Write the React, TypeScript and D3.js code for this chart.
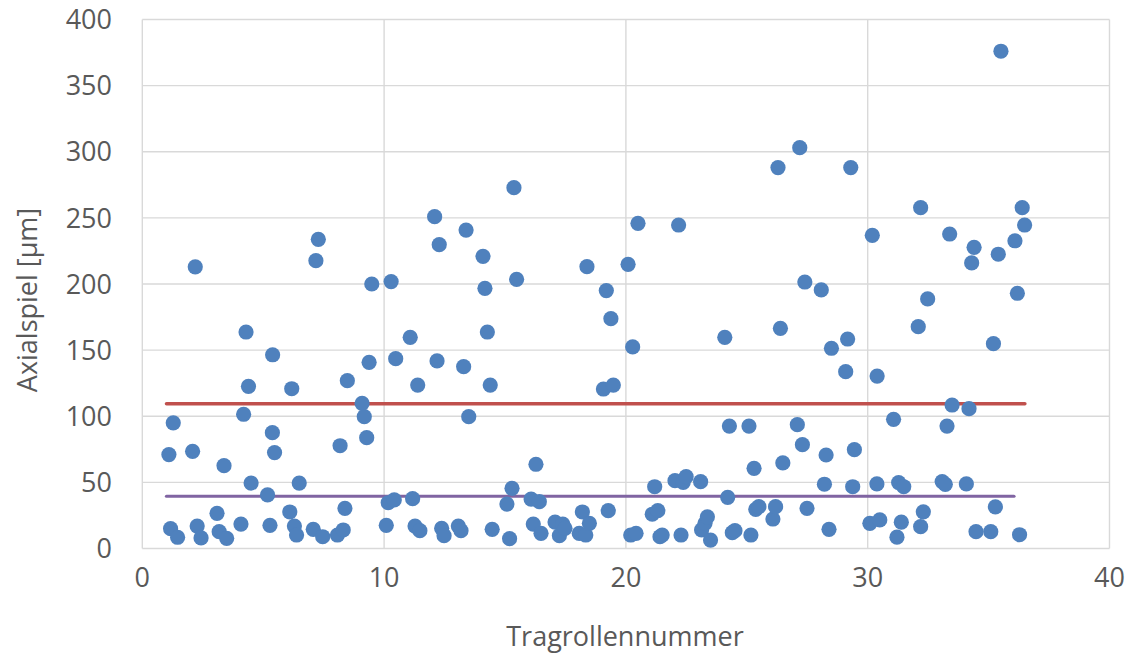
import React from "react";
import * as d3 from "d3";

// Tragrollennummer (x) and Axialspiel in µm (y)
const rollerPos: number[] = [
  1.1, 1.17, 1.28, 1.46,
  2.08, 2.19, 2.27, 2.43,
  3.09, 3.18, 3.38, 3.49,
  4.08, 4.19, 4.29, 4.39, 4.5,
  5.18, 5.28, 5.38, 5.39, 5.47,
  6.1, 6.18, 6.29, 6.38, 6.49,
  7.07, 7.18, 7.28, 7.46,
  8.07, 8.18, 8.31, 8.38, 8.48,
  9.09, 9.18, 9.28, 9.38, 9.49,
  10.09, 10.17, 10.29, 10.42, 10.48,
  11.08, 11.18, 11.28, 11.39, 11.48,
  12.09, 12.19, 12.28, 12.38, 12.48,
  13.07, 13.18, 13.29, 13.39, 13.5,
  14.09, 14.17, 14.27, 14.39, 14.47,
  15.08, 15.19, 15.29, 15.37, 15.48,
  16.08, 16.17, 16.28, 16.42, 16.49,
  17.07, 17.25, 17.39, 17.48,
  18.07, 18.2, 18.34, 18.39, 18.49,
  19.07, 19.19, 19.27, 19.38, 19.48,
  20.09, 20.2, 20.28, 20.42, 20.5,
  21.09, 21.19, 21.32, 21.41, 21.5,
  22.03, 22.18, 22.28, 22.37, 22.49,
  23.09, 23.13, 23.27, 23.37, 23.5,
  24.09, 24.21, 24.28, 24.4, 24.51,
  25.09, 25.17, 25.3, 25.37, 25.5,
  26.08, 26.19, 26.29, 26.39, 26.49,
  27.09, 27.19, 27.3, 27.4, 27.49,
  28.08, 28.21, 28.28, 28.4, 28.5,
  29.09, 29.17, 29.3, 29.38, 29.45,
  30.09, 30.19, 30.38, 30.39, 30.5,
  31.07, 31.21, 31.28, 31.39, 31.49,
  32.09, 32.19, 32.19, 32.3, 32.48,
  33.08, 33.21, 33.28, 33.39, 33.49,
  34.08, 34.19, 34.3, 34.4, 34.48,
  35.09, 35.2, 35.28, 35.4, 35.51,
  36.09, 36.19, 36.28, 36.39, 36.49,
];

const axialPlay: number[] = [
  71, 15, 95, 8.5,
  73.5, 213, 17, 8,
  26.6, 12.7, 62.6, 7.7,
  18.5, 101.5, 163.7, 122.6, 49.5,
  40.5, 17.5, 87.6, 146.5, 72.5,
  27.6, 120.8, 17, 10.2, 49.5,
  14.5, 217.6, 233.8, 8.9,
  10.2, 77.7, 14, 30.4, 126.9,
  109.8, 99.7, 83.8, 140.8, 200,
  17.5, 34.6, 201.8, 36.7, 143.5,
  159.7, 37.7, 17, 123.6, 13.5,
  250.9, 141.8, 229.7, 15.3, 9.7,
  17, 13.5, 137.5, 240.8, 99.7,
  220.9, 196.7, 163.7, 123.6, 14.5,
  33.6, 7.4, 45.5, 272.8, 203.5,
  37.4, 18.5, 63.7, 35.4, 11.5,
  20, 9.7, 18.5, 15.3,
  11.4, 27.6, 10.2, 213.1, 19,
  120.6, 195, 28.6, 173.8, 123.6,
  214.9, 10.2, 152.4, 11.5, 245.9,
  25.9, 46.7, 28.6, 8.9, 10.2,
  51.3, 244.6, 10.2, 50, 54.3,
  50.5, 14, 19, 24, 6.4,
  159.7, 38.7, 92.6, 12, 13.5,
  92.6, 10.2, 60.6, 29.6, 31.6,
  22.3, 31.6, 288, 166.5, 64.7,
  93.6, 303.1, 78.5, 201.5, 30.4,
  195.5, 48.6, 70.7, 14.5, 151.4,
  133.7, 158.4, 288, 46.7, 74.7,
  19, 236.8, 48.8, 130.4, 21.6,
  97.7, 8.6, 49.9, 19.9, 46.7,
  167.7, 257.7, 16.5, 27.7, 188.7,
  50.6, 48.5, 92.6, 237.8, 108.5,
  48.8, 105.7, 215.9, 227.7, 12.7,
  12.7, 154.9, 31.5, 222.5, 376,
  232.7, 193, 10.4, 257.7, 244.6,
];

// Reference lines (upper and lower level)
const upperLineX: number[] = [1, 36.5];
const upperLineY: number[] = [109.5, 109.5];
const lowerLineX: number[] = [1, 36.05];
const lowerLineY: number[] = [39.5, 39.5];

const xTicks: number[] = [0, 10, 20, 30, 40];
const yTicks: number[] = [0, 50, 100, 150, 200, 250, 300, 350, 400];

const xTitle = "Tragrollennummer";
const yTitle = "Axialspiel [µm]";

export default function App() {
  const W = 1126;
  const H = 655;
  const x = d3.scaleLinear().domain([0, 40]).range([142.3, 1109.5]);
  const y = d3.scaleLinear().domain([0, 400]).range([548.5, 19.5]);
  const font = "'Open Sans', 'DejaVu Sans', sans-serif";
  const textColor = "#595959";
  const grid = "#D9D9D9";

  const line = d3
    .line<[number, number]>()
    .x((d) => x(d[0]))
    .y((d) => y(d[1]));

  const upper = upperLineX.map((v, i) => [v, upperLineY[i]] as [number, number]);
  const lower = lowerLineX.map((v, i) => [v, lowerLineY[i]] as [number, number]);

  return (
    <svg
      width={W}
      height={H}
      style={{ position: "absolute", left: 0, top: 0, background: "#fff" }}
      fontFamily={font}
    >
      <rect x={0} y={0} width={W} height={H} fill="#fff" />
      {/* grid */}
      {yTicks.map((t) => (
        <line key={"gy" + t} x1={x(0)} x2={x(40)} y1={y(t)} y2={y(t)} stroke={grid} strokeWidth={1.4} />
      ))}
      {xTicks.map((t) => (
        <line key={"gx" + t} x1={x(t)} x2={x(t)} y1={y(0)} y2={y(400)} stroke={grid} strokeWidth={1.4} />
      ))}
      {/* tick labels */}
      {yTicks.map((t) => (
        <text
          key={"ty" + t}
          x={112}
          y={y(t)}
          dy="0.36em"
          textAnchor="end"
          fontSize={27}
          fill={textColor}
        >
          {t}
        </text>
      ))}
      {xTicks.map((t) => (
        <text
          key={"tx" + t}
          x={x(t)}
          y={577}
          dy="0.36em"
          textAnchor="middle"
          fontSize={27}
          fill={textColor}
        >
          {t}
        </text>
      ))}
      {/* axis titles */}
      <text x={625} y={636} dy="0.36em" textAnchor="middle" fontSize={27} fill={textColor}>
        {xTitle}
      </text>
      <text
        transform={`translate(27,300) rotate(-90)`}
        dy="0.36em"
        textAnchor="middle"
        fontSize={27}
        fill={textColor}
      >
        {yTitle}
      </text>
      {/* reference lines */}
      <path d={line(upper) || ""} fill="none" stroke="#C0504D" strokeWidth={3.5} strokeLinecap="round" />
      <path d={line(lower) || ""} fill="none" stroke="#8064A2" strokeWidth={3.2} strokeLinecap="round" />
      {/* points */}
      {rollerPos.map((v, i) => (
        <circle key={"p" + i} cx={x(v)} cy={y(axialPlay[i])} r={7.6} fill="#4F81BD" />
      ))}
    </svg>
  );
}
